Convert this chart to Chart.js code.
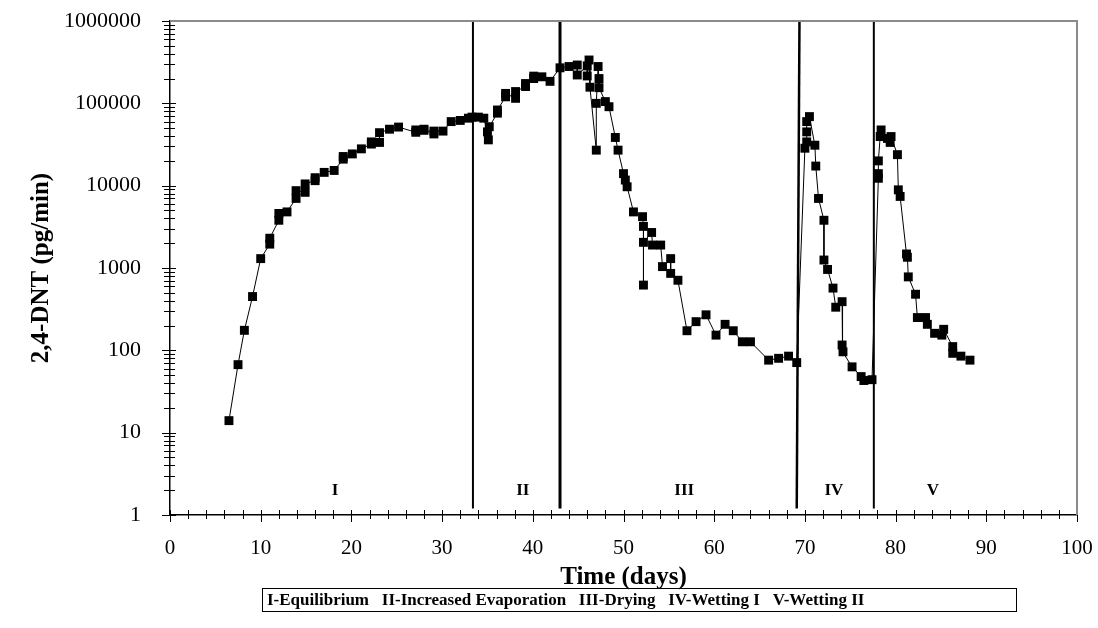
<!DOCTYPE html>
<html>
<head>
<meta charset="utf-8">
<script src="https://cdn.jsdelivr.net/npm/chart.js@4.4.1/dist/chart.umd.min.js"></script>
<style>
  html, body { margin: 0; padding: 0; background: #fff; }
  #wrap { width: 1098px; height: 628px; }
</style>
</head>
<body>
<div id="wrap"><canvas id="dntChart" width="1098" height="628"></canvas></div>
<script>
// 2,4-DNT emission flux over the soil experiment (days, pg/min)
const days = [
  6.5, 7.5, 8.2, 9.1, 10.0, 11.0, 11.0, 12.0, 12.0, 12.9,
  13.9, 13.9, 14.9, 14.9, 16.0, 16.0, 17.0, 18.1, 19.1, 19.1,
  20.1, 21.1, 22.2, 22.2, 23.1, 23.1, 24.2, 25.2, 27.1, 27.1,
  28.0, 28.0, 29.1, 29.1, 30.1, 31.0, 32.0, 32.9, 33.3, 34.0,
  34.6, 35.0, 35.1, 35.2, 36.1, 36.1,
  37.0, 37.0, 38.1, 38.1, 39.2, 39.2, 40.1, 40.1, 41.0, 41.9,
  43.0, 44.0, 44.9, 44.9, 46.0, 46.0, 46.2, 46.3, 47.0, 47.0,
  47.2, 47.3, 47.3, 48.0, 48.4,
  49.1, 49.4, 50.0, 50.2, 50.4, 51.1, 52.1, 52.2, 52.2, 52.2,
  53.1, 53.2, 54.1, 54.3, 55.2, 55.2, 56.0, 57.0, 58.0, 59.1,
  60.2, 61.2, 62.1, 63.1, 64.0, 66.0, 67.1, 68.2, 69.1,
  70.0, 70.2, 70.2, 70.2, 70.5, 71.1, 71.2, 71.5, 72.1, 72.1,
  72.5, 73.1, 73.4, 74.1, 74.1, 74.2, 75.2, 76.2, 76.5, 77.4,
  78.1, 78.1, 78.1, 78.3, 78.4, 79.1, 79.4, 79.5, 80.2, 80.3,
  80.5, 81.2, 81.3, 81.4, 82.2, 82.4, 83.3, 83.5, 84.3, 85.1,
  85.3, 86.3, 86.3, 87.2, 88.2
];
const dnt = [
  14, 67, 175, 450, 1300, 1950, 2300, 3800, 4600, 4800,
  7000, 8700, 8300, 10500, 11500, 12500, 14500, 15300, 21000, 22600,
  24300, 28000, 32000, 34000, 33500, 44000, 48500, 51500, 44500, 47500,
  47000, 48500, 42500, 46000, 46000, 60000, 62000, 66000, 68000, 68000,
  66000, 45000, 36000, 52000, 76000, 83000,
  120000, 132000, 115000, 139000, 160000, 174000, 200000, 214000, 210000, 185000,
  270000, 280000, 292000, 221000, 285000, 215000, 336000, 157000, 27000, 100000,
  280000, 200000, 155000, 105000, 91000,
  38500, 27000, 14000, 11700, 9700, 4800, 4200, 3200, 620, 2050,
  2700, 1900, 1900, 1040, 1300, 860, 710, 173, 223, 270,
  153, 207, 173, 127, 127, 76, 80, 85, 71,
  28500, 34000, 45000, 60000, 69000, 31000, 17300, 7000, 3800, 1250,
  960, 570, 334, 390, 116, 96, 63, 48, 43, 44,
  12300, 14000, 20000, 39500, 47500, 37500, 33500, 39500, 23800, 8900,
  7400, 1480, 1350, 780, 480, 250, 250, 207, 161, 153,
  180, 111, 92, 85, 76
];

// phase boundaries: day at the bottom and at the top of each divider
const phaseBreakBottom = [33.4, 43.0, 69.1, 77.6];
const phaseBreakTop = [33.4, 43.0, 69.4, 77.6];
const phaseBreakWidth = [2, 3, 2.5, 2];

const phaseLabels = ['I', 'II', 'III', 'IV', 'V'];
const phaseLabelDays = [18.2, 38.9, 56.7, 73.2, 84.1];
const phaseLabelLevel = 2;
const phaseNames = ['I-Equilibrium', 'II-Increased Evaporation', 'III-Drying', 'IV-Wetting I', 'V-Wetting II'];

const yTicks = [1, 10, 100, 1000, 10000, 100000, 1000000];
const xMinorStep = 2;

const serif = "'Liberation Serif', 'Times New Roman', serif";

const fluxPoints = days.map((d, i) => ({ x: d, y: dnt[i] }));

const dividerSets = phaseBreakBottom.map((d, i) => ({
  data: [{ x: d, y: 1.2 }, { x: phaseBreakTop[i], y: 1000000 }],
  showLine: true,
  borderColor: '#000',
  borderWidth: phaseBreakWidth[i],
  pointRadius: 0,
  tension: 0
}));

// crossing tick marks, frame, phase labels and the phase key
const axisExtras = {
  id: 'axisExtras',
  afterDraw(chart) {
    const { ctx, chartArea: a, scales: { x, y } } = chart;
    ctx.save();
    ctx.strokeStyle = '#000';
    ctx.lineWidth = 1;
    ctx.beginPath();
    for (let dec = 1; dec <= 1000000; dec *= 10) {
      for (let m = 1; m <= 9; m++) {
        const v = dec * m;
        if (v > 1000000) break;
        const py = Math.round(y.getPixelForValue(v)) + 0.5;
        const major = m === 1;
        ctx.moveTo(a.left - (major ? 8 : 6), py);
        ctx.lineTo(a.left + (major ? 6 : 5), py);
      }
    }
    for (let d = 0; d <= 100; d += xMinorStep) {
      const px = Math.round(x.getPixelForValue(d)) + 0.5;
      const major = d % 10 === 0;
      ctx.moveTo(px, a.bottom - 5);
      ctx.lineTo(px, a.bottom + (major ? 7 : 4));
    }
    ctx.stroke();

    // grey frame on the top and right of the plot area
    ctx.strokeStyle = '#8a8a8a';
    ctx.lineWidth = 2;
    ctx.beginPath();
    ctx.moveTo(a.left, a.top);
    ctx.lineTo(a.right, a.top);
    ctx.lineTo(a.right, a.bottom);
    ctx.stroke();

    // phase numerals
    ctx.fillStyle = '#000';
    ctx.font = 'bold 17px ' + serif;
    ctx.textAlign = 'center';
    ctx.textBaseline = 'middle';
    phaseLabels.forEach((t, i) => {
      ctx.fillText(t, x.getPixelForValue(phaseLabelDays[i]), y.getPixelForValue(phaseLabelLevel));
    });

    // phase key box
    const boxL = 262, boxT = 588, boxW = 754, boxH = 23;
    ctx.strokeStyle = '#000';
    ctx.lineWidth = 1;
    ctx.strokeRect(boxL + 0.5, boxT + 0.5, boxW, boxH);
    ctx.font = 'bold 17px ' + serif;
    ctx.textAlign = 'left';
    ctx.fillText(phaseNames.join('\u00a0\u00a0\u00a0'), boxL + 5, boxT + boxH / 2 + 1);
    ctx.restore();
  }
};

new Chart(document.getElementById('dntChart'), {
  type: 'scatter',
  data: {
    datasets: [{
      data: fluxPoints,
      showLine: true,
      borderColor: '#000',
      borderWidth: 1,
      tension: 0,
      pointStyle: 'rect',
      pointRadius: 6.3,
      pointBackgroundColor: '#000',
      pointBorderColor: '#000',
      pointBorderWidth: 0
    }, ...dividerSets]
  },
  options: {
    responsive: false,
    animation: false,
    layout: { padding: { top: 21, right: 21, left: 0, bottom: 0 } },
    plugins: { legend: { display: false }, tooltip: { enabled: false } },
    scales: {
      x: {
        type: 'linear',
        min: 0,
        max: 100,
        ticks: { stepSize: 10, color: '#000', font: { family: serif, size: 21 }, padding: 21, maxRotation: 0 },
        grid: { display: false, drawTicks: false },
        border: { display: true, color: '#000', width: 1.5 },
        title: { display: true, text: 'Time (days)', color: '#000', font: { family: serif, size: 25, weight: 'bold' }, padding: { top: 0, bottom: 35 } },
        afterFit(scale) {
          scale.height = 113;
          scale.paddingLeft = 0;
          scale.paddingRight = 0;
        }
      },
      y: {
        type: 'logarithmic',
        min: 1,
        max: 1000000,
        afterBuildTicks(scale) { scale.ticks = yTicks.map(v => ({ value: v })); },
        ticks: { color: '#000', font: { family: serif, size: 22 }, padding: 29, callback: v => String(v) },
        grid: { display: false, drawTicks: false },
        border: { display: true, color: '#000', width: 1.5 },
        title: { display: true, text: '2,4-DNT (pg/min)', color: '#000', font: { family: serif, size: 25, weight: 'bold' }, padding: { top: 27, bottom: 0 } },
        afterFit(scale) {
          scale.width = 170;
          scale.paddingTop = 0;
          scale.paddingBottom = 0;
        }
      }
    }
  },
  plugins: [axisExtras]
});
</script>
</body>
</html>
